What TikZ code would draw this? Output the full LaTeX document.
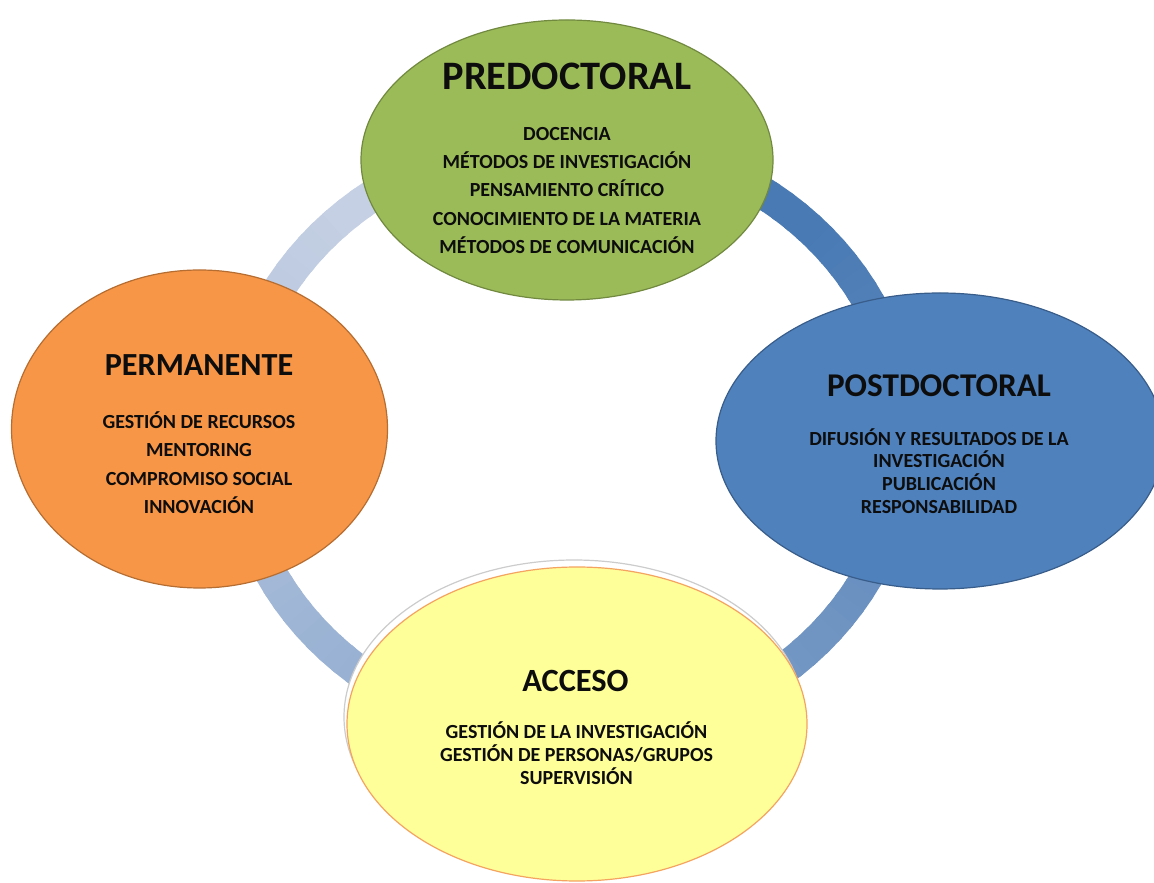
\documentclass[tikz,border=0pt]{standalone}
\usepackage{fontspec}
\setmainfont{Carlito}
\usepackage{xcolor}
\usetikzlibrary{shapes.geometric}

\definecolor{predgreen}{HTML}{9BBB59}
\definecolor{predline}{HTML}{71893F}
\definecolor{permorange}{HTML}{F79646}
\definecolor{permline}{HTML}{B66D31}
\definecolor{postblue}{HTML}{4F81BD}
\definecolor{postline}{HTML}{385D8A}
\definecolor{accyellow}{HTML}{FFFF99}
\definecolor{accline}{HTML}{F4A460}
\definecolor{ringdark}{HTML}{4A7AB4}
\definecolor{ringlight}{HTML}{C5D0E4}
\definecolor{inktext}{HTML}{0D0D0D}

\begin{document}
\begin{tikzpicture}[x=0.5pt, y=0.5pt,
    phase/.style={ellipse, inner sep=0pt, line width=0.6pt},
    ringseg/.style={line width=16pt},
    title/.style={text=inktext, inner sep=0pt,
      font=\bfseries\fontsize{#1}{#1}\selectfont},
    body/.style 2 args={text=inktext, inner sep=0pt, align=center,
      font=\bfseries\fontsize{#1}{#2}\selectfont}]
  \useasboundingbox (0,0) rectangle (1154,882);
  \clip (0,0) rectangle (1154,882);

  % ring behind the four phases, shaded round the cycle
  \coordinate (ringmid) at (570,444);
  \foreach \t in {90,87,...,-267}{
    \pgfmathtruncatemacro{\p}{min(100,max(0,(45-\t)/2.7))}
    \colorlet{ringnow}{ringlight!\p!ringdark}
    \draw[ringseg, ringnow] (ringmid) ++(\t:335 and 300)
      arc[start angle=\t, end angle=\t-4, x radius=335, y radius=300];
  }

  % phases
  \node[phase, fill=predgreen, draw=predline,
    minimum width=206pt, minimum height=140pt] (pre) at (567,722) {};
  \node[phase, fill=permorange, draw=permline,
    minimum width=188pt, minimum height=159pt] (perm) at (199.5,453) {};
  \node[phase, fill=postblue, draw=postline,
    minimum width=224pt, minimum height=148pt] (post) at (940,441) {};
  \node[phase, fill=white, draw=black!20,
    minimum width=230pt, minimum height=157pt] (accghost) at (574,165) {};
  \node[phase, fill=accyellow, draw=accline,
    minimum width=230pt, minimum height=157pt] (acc) at (577,158) {};

  % texts
  \node[title=20.2] (pretitle) at (567,806) {PREDOCTORAL};
  \node[body={10}{14.2}] (prebody) at (567,691.5) {DOCENCIA\\
    MÉTODOS DE INVESTIGACIÓN\\ PENSAMIENTO CRÍTICO\\
    CONOCIMIENTO DE LA MATERIA\\ MÉTODOS DE COMUNICACIÓN};

  \node[title=16.1] (permtitle) at (199,517) {PERMANENTE};
  \node[body={10}{14.25}] (permbody) at (199,419.5) {GESTIÓN DE RECURSOS\\
    MENTORING\\ COMPROMISO SOCIAL\\ INNOVACIÓN};

  \node[title=16.6] (posttitle) at (939,496) {POSTDOCTORAL};
  \node[body={10}{11.4}] (postbody) at (939,411) {DIFUSIÓN Y RESULTADOS DE LA\\
    INVESTIGACIÓN\\ PUBLICACIÓN\\ RESPONSABILIDAD};

  \node[title=16.2] (acctitle) at (575.5,201) {ACCESO};
  \node[body={10}{11.5}] (accbody) at (576.5,129) {GESTIÓN DE LA INVESTIGACIÓN\\
    GESTIÓN DE PERSONAS/GRUPOS\\ SUPERVISIÓN};
\end{tikzpicture}
\end{document}
